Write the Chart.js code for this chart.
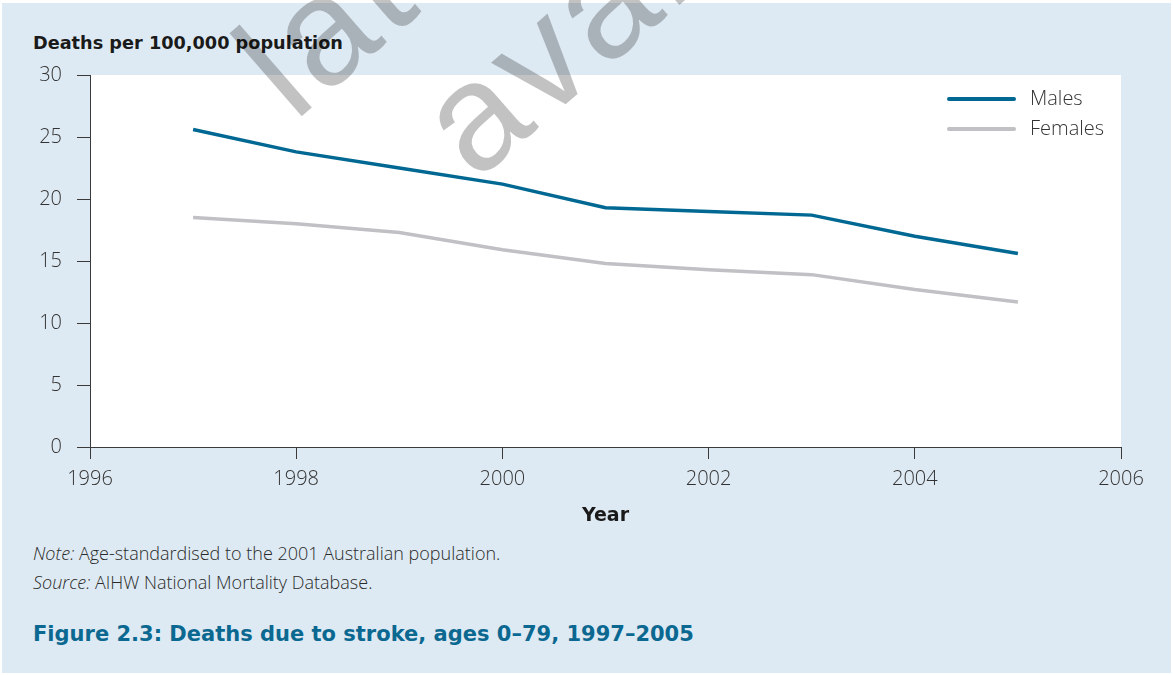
<!DOCTYPE html>
<html>
<head>
<meta charset="utf-8">
<script src="https://cdn.jsdelivr.net/npm/chart.js@4"></script>
<style>
  body { margin: 0; background: #fff; width: 1173px; height: 675px; overflow: hidden; }
  #box { position: absolute; left: 2px; top: 3px; width: 1169px; height: 670px; background: #deeaf3; }
  #wrap { position: absolute; left: 0; top: 0; width: 1173px; height: 531px; z-index: 2; }
  .txt { position: absolute; left: 33px; white-space: nowrap; color: #333; line-height: 1; }
  #ytitle { top: 35px; font-family: 'DejaVu Sans'; font-weight: bold; font-size: 17.7px; color: #1a1a1a; z-index: 1; }
  #note, #source { font-family: 'Open Sans'; font-weight: 300; font-size: 18px; color: #2a2a2a; }
  #note { top: 544px; }
  #source { top: 573px; }
  #fig { top: 624px; font-family: 'DejaVu Sans'; font-size: 21px; font-weight: bold; color: #0b6890; }
</style>
</head>
<body>
<div id="box"></div>
<div class="txt" id="ytitle">Deaths per 100,000 population</div>
<div id="wrap"><canvas id="myChart"></canvas></div>
<div class="txt" id="note"><i>Note:</i> Age-standardised to the 2001 Australian population.</div>
<div class="txt" id="source"><i>Source:</i> AIHW National Mortality Database.</div>
<div class="txt" id="fig">Figure 2.3: Deaths due to stroke, ages 0–79, 1997–2005</div>
<script>
const years = [1997, 1998, 1999, 2000, 2001, 2002, 2003, 2004, 2005]
const males = [25.6, 23.8, 22.5, 21.2, 19.3, 19.0, 18.7, 17.0, 15.6]
const females = [18.5, 18.0, 17.3, 15.9, 14.8, 14.3, 13.9, 12.7, 11.7]
const xTicks = [1996, 1998, 2000, 2002, 2004, 2006]
const yTicks = [0, 5, 10, 15, 20, 25, 30]

const tickFont = { family: 'Open Sans', weight: 300, size: 20 }
const axisColor = '#3a3a3a'

// white plot background over the blue page
const whiteArea = {
    id: 'whiteArea',
    beforeDraw(chart) {
        const a = chart.chartArea
        const ctx = chart.ctx
        ctx.save()
        ctx.fillStyle = '#ffffff'
        ctx.fillRect(a.left, a.top, a.right - a.left, a.bottom - a.top)
        ctx.restore()
    }
}

// stacked legend in the top right corner of the plot
const sideLegend = {
    id: 'sideLegend',
    afterDatasetsDraw(chart) {
        const ctx = chart.ctx
        ctx.save()
        chart.data.datasets.forEach((ds, i) => {
            const y = 99 + i * 30
            ctx.strokeStyle = ds.borderColor
            ctx.lineWidth = 4
            ctx.lineCap = 'round'
            ctx.beginPath()
            ctx.moveTo(949, y)
            ctx.lineTo(1014, y)
            ctx.stroke()
            ctx.fillStyle = '#333'
            ctx.font = '300 20px "Open Sans"'
            ctx.textBaseline = 'middle'
            ctx.fillText(ds.label, 1030, y)
        })
        ctx.restore()
    }
}

const watermark = {
    id: 'watermark',
    afterDraw(chart) {
        const ctx = chart.ctx
        ctx.save()
        ctx.translate(294, 123)
        ctx.rotate(-41 * Math.PI / 180)
        ctx.font = '152px "Liberation Sans"'
        ctx.letterSpacing = '5px'
        ctx.fillStyle = 'rgba(0,0,0,0.24)'
        ctx.fillText('later version', 0, 0)
        ctx.fillText('available', 98, 164)
        ctx.restore()
    }
}

const ctx = document.getElementById('myChart').getContext('2d')

const myChart = new Chart(ctx, {
    type: 'line',
    data: {
        datasets: [
            {
                label: 'Males',
                data: years.map((x, i) => ({ x: x, y: males[i] })),
                borderColor: '#006892',
                borderWidth: 3.5,
                pointRadius: 0,
                tension: 0
            },
            {
                label: 'Females',
                data: years.map((x, i) => ({ x: x, y: females[i] })),
                borderColor: '#c0c0c5',
                borderWidth: 3.5,
                pointRadius: 0,
                tension: 0
            }
        ]
    },
    plugins: [whiteArea, sideLegend, watermark],
    options: {
        responsive: true,
        maintainAspectRatio: false,
        animation: false,
        layout: { padding: { top: 75, right: 52, left: 0, bottom: 0 } },
        scales: {
            x: {
                type: 'linear',
                min: 1996,
                max: 2006,
                afterBuildTicks: s => { s.ticks = xTicks.map(v => ({ value: v })) },
                afterFit: s => { s.height = 84 },
                ticks: {
                    color: '#333',
                    font: tickFont,
                    padding: 8,
                    maxRotation: 0,
                    callback: v => String(v)
                },
                grid: { drawOnChartArea: false, drawTicks: true, tickLength: 12, color: axisColor },
                border: { display: true, color: axisColor, width: 1 },
                title: {
                    display: true,
                    text: 'Year',
                    color: '#1a1a1a',
                    font: { family: 'DejaVu Sans', weight: 'bold', size: 19 },
                    padding: { top: 4, bottom: 4 }
                }
            },
            y: {
                min: 0,
                max: 30,
                afterBuildTicks: s => { s.ticks = yTicks.map(v => ({ value: v })) },
                afterFit: s => { s.width = 90 },
                ticks: { color: '#333', font: tickFont, padding: 15 },
                grid: { drawOnChartArea: false, drawTicks: true, tickLength: 13, color: axisColor },
                border: { display: true, color: axisColor, width: 1 }
            }
        },
        plugins: {
            legend: { display: false },
            tooltip: { enabled: false }
        }
    }
})
</script>
</body>
</html>
